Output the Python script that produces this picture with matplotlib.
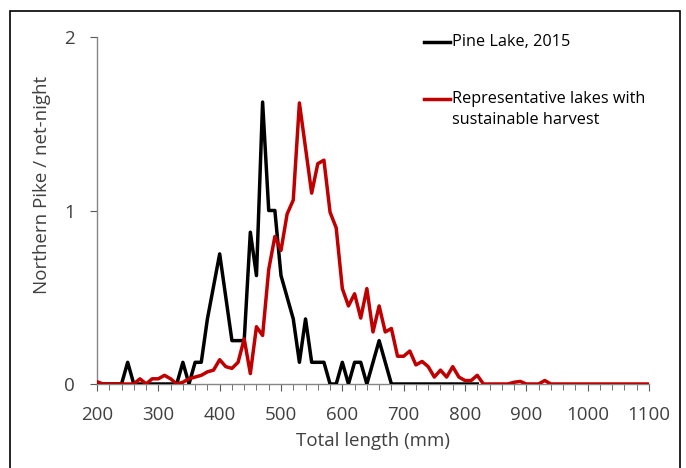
import matplotlib
matplotlib.use("Agg")
import matplotlib.pyplot as plt
from matplotlib.lines import Line2D
from matplotlib.patches import Rectangle
import numpy as np

# total length classes (mm), 10 mm bins
lengths = list(range(200, 1110, 10))

# Pine Lake 2015 catch per net-night (200..820 mm)
pine_lake = [0, 0, 0, 0, 0, 0.125, 0, 0, 0, 0,
             0, 0, 0, 0, 0.125, 0, 0.125, 0.125, 0.375, 0.5625,
             0.75, 0.5, 0.25, 0.25, 0.25, 0.875, 0.625, 1.625, 1.0, 1.0,
             0.625, 0.5, 0.375, 0.125, 0.375, 0.125, 0.125, 0.125, 0, 0,
             0.125, 0, 0.125, 0.125, 0, 0.125, 0.25, 0.125, 0, 0,
             0, 0, 0, 0, 0, 0, 0, 0, 0, 0,
             0, 0, 0]

# representative lakes with sustainable harvest (200..1100 mm)
representative = [0.013, 0, 0, 0, 0, 0, 0, 0.03, 0, 0.03,
                  0.03, 0.05, 0.03, 0, 0.01, 0.03, 0.04, 0.05, 0.07, 0.08,
                  0.14, 0.10, 0.09, 0.125, 0.26, 0.06, 0.33, 0.28, 0.66, 0.85,
                  0.77, 0.98, 1.06, 1.62, 1.36, 1.10, 1.27, 1.29, 0.99, 0.90,
                  0.55, 0.45, 0.52, 0.38, 0.55, 0.30, 0.45, 0.30, 0.32, 0.16,
                  0.16, 0.19, 0.11, 0.13, 0.10, 0.04, 0.08, 0.04, 0.10, 0.04,
                  0.02, 0.02, 0.05, 0, 0, 0, 0, 0, 0.01, 0.015,
                  0, 0, 0, 0.02, 0, 0, 0, 0, 0, 0,
                  0, 0, 0, 0, 0, 0, 0, 0, 0, 0,
                  0]

xtick_labels = ["200", "300", "400", "500", "600", "700", "800", "900", "1000", "1100"]

plt.rcParams['font.family'] = ['Open Sans', 'DejaVu Sans']

W, H = 686, 468
fig = plt.figure(figsize=(W / 100, H / 100), dpi=100)
ax = fig.add_axes([97 / W, 1 - 384 / H, (649 - 97) / W, (384 - 37) / H])

ax.plot(lengths[:len(pine_lake)], pine_lake, color='black', lw=2.5, zorder=3)
ax.plot(lengths, representative, color='#C00000', lw=2.5, zorder=4)

ax.set_xlim(200, 1100)
ax.set_ylim(0, 2)
ax.set_yticks([0, 1, 2])
ax.set_xticks(range(200, 1101, 100))
ax.set_xticklabels(xtick_labels)
ax.set_xticks(range(200, 1101, 20), minor=True)

for side in ['top', 'right']:
    ax.spines[side].set_visible(False)
for side in ['left', 'bottom']:
    ax.spines[side].set_color('#868686')
    ax.spines[side].set_linewidth(1)

ax.tick_params(axis='both', which='both', direction='out', color='#595959',
               labelcolor='#404040', labelsize=13.5)
ax.tick_params(axis='x', which='major', length=5, pad=11)
ax.tick_params(axis='x', which='minor', length=4)
ax.tick_params(axis='y', which='major', length=5, pad=11)

ax.set_xlabel('Total length (mm)', color='#404040', fontsize=13.5)
ax.set_ylabel('Northern Pike / net-night', color='#404040', fontsize=13.5)
ax.xaxis.set_label_coords(0.5, -0.137)
ax.yaxis.set_label_coords(-0.083, 0.573)

# legend drawn by hand to keep the handle on the first text line
def fy(py):
    return 1 - py / H

fig.add_artist(Line2D([424 / W, 450 / W], [fy(42), fy(42)], color='black', lw=2.5))
fig.text(452 / W, fy(42), 'Pine Lake, 2015', va='center', ha='left', color='black', fontsize=11.7)
fig.add_artist(Line2D([424 / W, 450 / W], [fy(99), fy(99)], color='#C00000', lw=2.5))
fig.text(452 / W, fy(99), 'Representative lakes with', va='center', ha='left', color='black', fontsize=11.7)
fig.text(452 / W, fy(120), 'sustainable harvest', va='center', ha='left', color='black', fontsize=11.7)

# outer frame of the figure
fig.patches.append(Rectangle((9.5 / W, -0.02), (680 - 9.5) / W, fy(11) + 0.02,
                             transform=fig.transFigure, fill=False,
                             edgecolor='black', lw=1.2))

fig.savefig('out.png', dpi=100)
